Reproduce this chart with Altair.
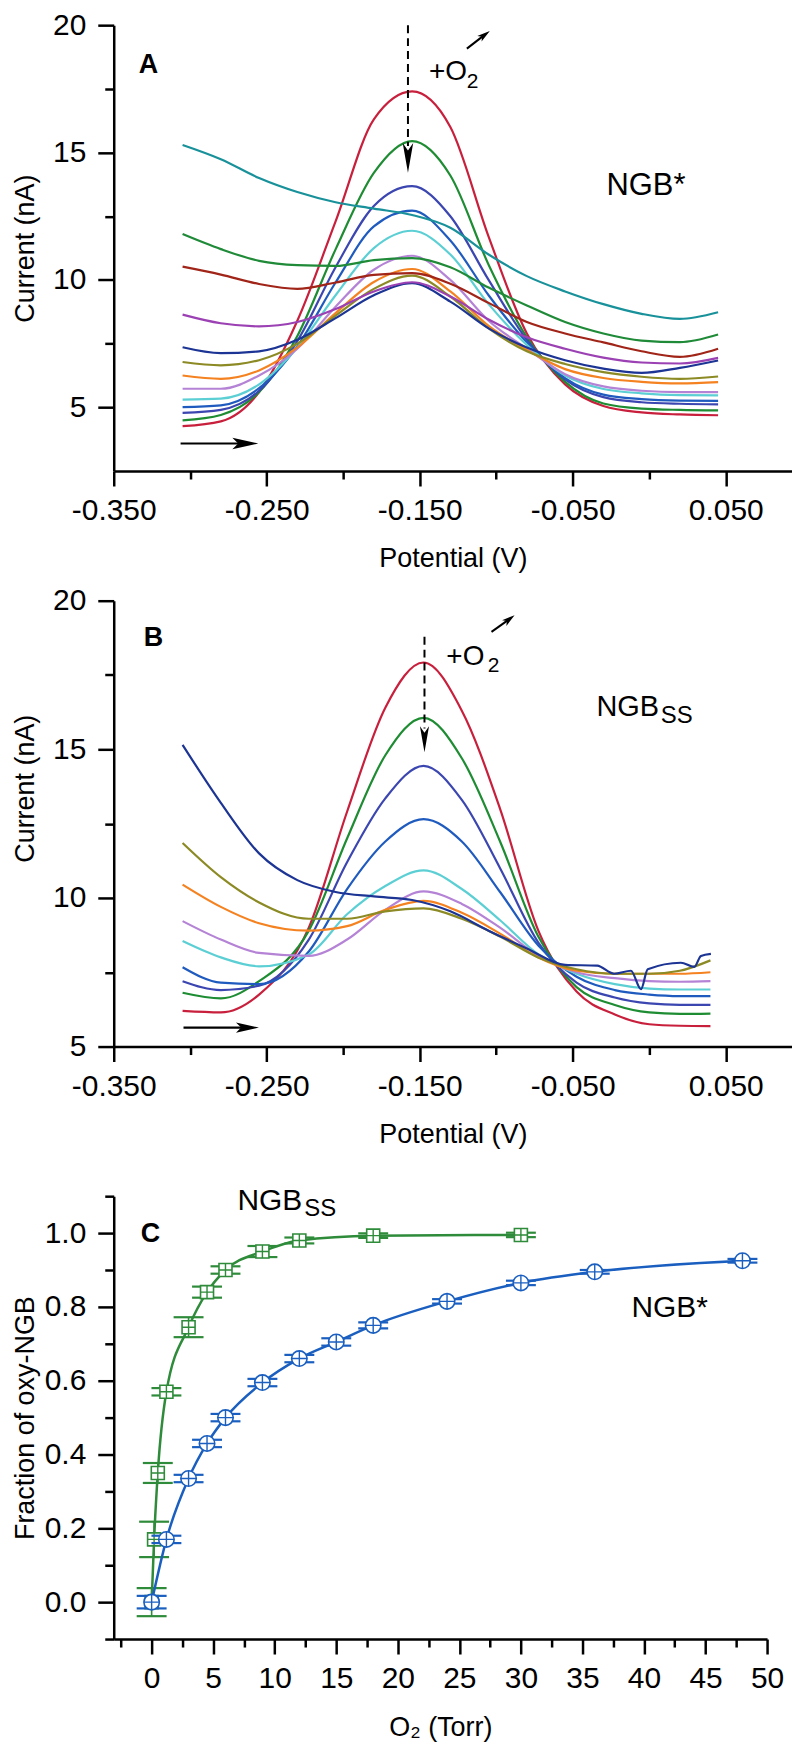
import altair as alt
import pandas as pd

FONT = "Liberation Sans"

# ---------------- Panel A : NGB* voltammograms ----------------
A_POT = [-0.305, -0.28, -0.255, -0.23, -0.205, -0.18, -0.155, -0.13, -0.105, -0.08, -0.055, -0.03, -0.005, 0.02, 0.045]
A_NAMES = ["a01", "a02", "a03", "a04", "a05", "a06", "a07", "a08", "a09", "a10", "a11", "a12", "a13"]
A_COLORS = ["#c8203c", "#1e8c32", "#3b46b0", "#1f5bbf", "#5ccfd4", "#b583d6", "#f58220",
            "#8c8a24", "#1c3494", "#9b41b3", "#a02418", "#1f8a38", "#18919a"]
A01 = [4.26, 4.45, 5.6, 8.4, 12.3, 16.3, 17.4, 16.0, 11.7, 7.9, 5.9, 5.05, 4.8, 4.72, 4.69]
A02 = [4.49, 4.7, 5.6, 7.8, 11.2, 14.2, 15.45, 14.1, 10.6, 7.75, 6.0, 5.15, 4.95, 4.9, 4.88]
A03 = [4.78, 4.9, 5.65, 7.6, 10.5, 12.9, 13.68, 12.5, 10.0, 7.65, 6.1, 5.4, 5.2, 5.14, 5.12]
A04 = [5.01, 5.08, 5.75, 7.4, 9.9, 12.1, 12.72, 11.55, 9.4, 7.55, 6.15, 5.5, 5.32, 5.26, 5.25]
A05 = [5.30, 5.34, 5.9, 7.35, 9.4, 11.25, 11.93, 11.0, 9.05, 7.45, 6.25, 5.72, 5.55, 5.48, 5.47]
A06 = [5.73, 5.73, 6.25, 7.3, 8.95, 10.4, 10.95, 10.0, 8.4, 7.3, 6.3, 5.82, 5.65, 5.6, 5.6]
A07 = [6.25, 6.12, 6.45, 7.35, 8.7, 9.92, 10.43, 9.55, 8.2, 7.25, 6.5, 6.15, 6.0, 5.94, 5.99]
A08 = [6.78, 6.65, 6.85, 7.5, 8.6, 9.65, 10.17, 9.35, 8.1, 7.2, 6.7, 6.38, 6.2, 6.12, 6.21]
A09 = [7.36, 7.13, 7.2, 7.65, 8.5, 9.4, 9.87, 9.15, 8.1, 7.35, 6.85, 6.52, 6.35, 6.55, 6.84]
A10 = [8.64, 8.3, 8.18, 8.35, 8.86, 9.55, 9.91, 9.35, 8.45, 7.75, 7.3, 6.95, 6.76, 6.72, 6.94]
A11 = [10.52, 10.21, 9.84, 9.65, 9.9, 10.2, 10.27, 9.85, 9.1, 8.35, 7.9, 7.55, 7.2, 6.98, 7.3]
A12 = [11.8, 11.21, 10.75, 10.58, 10.55, 10.78, 10.86, 10.5, 9.7, 9.0, 8.35, 7.9, 7.62, 7.56, 7.86]
A13 = [15.3, 14.74, 14.0, 13.45, 13.05, 12.8, 12.55, 12.05, 11.0, 10.15, 9.55, 9.05, 8.67, 8.47, 8.73]
A_CURVES = [A01, A02, A03, A04, A05, A06, A07, A08, A09, A10, A11, A12, A13]

# ---------------- Panel B : NGBss voltammograms ----------------
B_POT = [-0.305, -0.28, -0.255, -0.2225, -0.1975, -0.1725, -0.1475, -0.1225, -0.0975, -0.0725, -0.0475, -0.0225, 0.0, 0.02, 0.04]
B_NAMES = ["b01", "b02", "b03", "b04", "b05", "b06", "b07", "b08", "b09"]
B_COLORS = ["#ef3b2c", "#1f8b3a", "#4b4fb5", "#1956b0", "#63d2d8", "#b07dd0", "#f7851f", "#8c7d1f", "#1b2a84"]
B01 = [6.2, 6.15, 6.75, 9.0, 12.9, 16.4, 17.92, 16.3, 13.0, 8.9, 6.85, 6.08, 5.75, 5.7, 5.69]
B02 = [6.81, 6.62, 7.2, 8.9, 12.0, 14.8, 16.06, 14.7, 11.9, 8.7, 7.0, 6.4, 6.15, 6.1, 6.11]
B03 = [7.2, 6.9, 7.05, 8.6, 11.2, 13.35, 14.44, 13.3, 11.0, 8.5, 7.15, 6.65, 6.45, 6.4, 6.4]
B04 = [7.67, 7.15, 7.1, 8.2, 10.3, 11.9, 12.65, 11.9, 10.2, 8.4, 7.35, 6.9, 6.75, 6.7, 6.7]
B05 = [8.55, 8.0, 7.7, 8.1, 9.45, 10.4, 10.93, 10.3, 9.25, 8.1, 7.45, 7.1, 6.95, 6.92, 6.92]
B06 = [9.22, 8.6, 8.15, 8.05, 8.6, 9.6, 10.22, 9.8, 9.0, 8.05, 7.5, 7.3, 7.2, 7.18, 7.2]
B07 = [10.45, 9.7, 9.15, 8.9, 9.05, 9.6, 9.9, 9.5, 8.8, 8.0, 7.55, 7.45, 7.45, 7.45, 7.5]
B08 = [11.85, 10.7, 9.85, 9.3, 9.3, 9.55, 9.65, 9.3, 8.7, 8.0, 7.6, 7.45, 7.45, 7.55, 7.9]
B_CURVES = [B01, B02, B03, B04, B05, B06, B07, B08]
B09_POT = [-0.305, -0.28, -0.255, -0.23, -0.205, -0.18, -0.155, -0.13, -0.105, -0.08, -0.055,
           -0.034, -0.023, -0.012, -0.0054, -0.001, 0.0207, 0.0294, 0.0338, 0.0403]
B09 = [15.15, 13.2, 11.5, 10.6, 10.2, 10.05, 9.93, 9.55, 8.9, 8.3, 7.75,
       7.72, 7.45, 7.55, 6.93, 7.6, 7.82, 7.68, 8.05, 8.12]

# ---------------- Panel C : O2 binding ----------------
C_STAR_O2 = [0, 1.2, 3, 4.5, 6, 9, 12, 15, 18, 24, 30, 36, 48]
C_STAR_FRAC = [0.0, 0.17, 0.335, 0.43, 0.50, 0.595, 0.66, 0.705, 0.75, 0.815, 0.865, 0.895, 0.925]
C_STAR_ERR = [0.017, 0.01, 0.01, 0.01, 0.01, 0.01, 0.01, 0.01, 0.008, 0.006, 0.006, 0.005, 0.005]
C_SS_O2 = [0, 0.2, 0.5, 1.2, 3, 4.5, 6, 9, 12, 18, 30]
C_SS_FRAC = [0.0, 0.17, 0.35, 0.57, 0.745, 0.84, 0.90, 0.95, 0.98, 0.993, 0.995]
C_SS_ERR = [0.038, 0.048, 0.027, 0.01, 0.027, 0.015, 0.01, 0.015, 0.008, 0.006, 0.006]
C_BLUE = "#1a5fc0"
C_GREEN = "#2e8b3a"

# ---------------- annotation positions (data coordinates) ----------------
A_LETTER = (-0.3337, 18.12, "A")
B_LETTER = (-0.3304, 18.47, "B")
C_LETTER = (-0.89, 0.977, "C")
A_DASH = (-0.1577, 20.0, 15.26)
A_DASH_HEAD = (-0.1577, 14.79)
B_DASH = (-0.1469, 18.79, 15.70)
B_DASH_HEAD = (-0.1469, 15.34)
A_O2 = [(-0.144, 17.86, "+O", 28), (-0.1192, 17.54, "2", 21)]
B_O2 = [(-0.1326, 17.84, "+O", 28), (-0.1056, 17.61, "2", 21)]
A_SMALL_ARROW = (-0.1192, 19.08, -0.1076, 19.62)
B_SMALL_ARROW = (-0.1031, 18.95, -0.0914, 19.38)
A_SCAN_ARROW = (-0.3063, -0.264, 3.58)
B_SCAN_ARROW = (-0.3044, -0.2626, 5.64)
A_TAGS = [(-0.028, 13.34, "NGB*", 31)]
B_TAGS = [(-0.0345, 16.11, "NGB", 29), (0.0075, 15.87, "SS", 24)]
C_TAGS = [(6.97, 1.063, "NGB", 30), (12.4, 1.047, "SS", 24), (38.98, 0.772, "NGB*", 30)]

POT_TICKS = [-0.35, -0.3, -0.25, -0.2, -0.15, -0.1, -0.05, 0.0, 0.05]
CUR_TICKS = [5, 7.5, 10, 12.5, 15, 17.5, 20]
O2_TICKS = [-2.5, 0, 2.5, 5, 7.5, 10, 12.5, 15, 17.5, 20, 22.5, 25, 27.5, 30, 32.5, 35, 37.5, 40, 42.5, 45, 47.5, 50]
FRAC_TICKS = [-0.1, 0.0, 0.1, 0.2, 0.3, 0.4, 0.5, 0.6, 0.7, 0.8, 0.9, 1.0, 1.1]

DOWN_HEAD = "M0,1L-0.35,-1L0,-0.5L0.35,-1Z"
RIGHT_HEAD = "M1,0L-1,-0.45L-0.55,0L-1,0.45Z"
UP_HEAD = "M0,-1L0.55,1L0,0.5L-0.55,1Z"
CROSS = "M-1,0L1,0M0,-1L0,1"

MINUS = "\u2212"
TITLE_X = -80


def tick_size(test, minor, major):
    return {"condition": {"test": test, "value": minor}, "value": major}


POT_MINOR = "abs(round(datum.value*100)) % 10 == 0"
POT_AXIS = alt.Axis(
    values=POT_TICKS,
    labelExpr=POT_MINOR + " ? '' : replace(format(datum.value, '.3f'), '" + MINUS + "', '-')",
    tickSize=tick_size(POT_MINOR, 8, 15),
    title="Potential (V)",
    labelPadding=10,
    titlePadding=20,
)
CUR_MINOR = "datum.value % 5 != 0"


def cur_axis(title_y=None):
    kw = dict(
        values=CUR_TICKS,
        labelExpr=CUR_MINOR + " ? '' : format(datum.value, 'd')",
        tickSize=tick_size(CUR_MINOR, 9, 16),
        title="Current (nA)",
        titleX=TITLE_X,
        titleBaseline="alphabetic",
        labelPadding=12,
    )
    if title_y is not None:
        kw["titleY"] = title_y
    return alt.Axis(**kw)


def frame(rows, cols):
    return pd.DataFrame(rows, columns=cols)


def curves_df(pot, names, curves):
    rows = []
    for n, vals in zip(names, curves):
        for p, v in zip(pot, vals):
            rows.append((p, v, n))
    return frame(rows, ["p", "v", "s"])


def annotations(X, Y, letter, dash, dash_head, head_size, o2, small_arrow, scan_arrow, scan_size, tags):
    layers = []
    layers.append(alt.Chart(frame([letter], ["p", "v", "t"])).mark_text(
        align="left", baseline="alphabetic", font=FONT, fontSize=27, fontWeight="bold", color="black"
    ).encode(x=X("p"), y=Y("v"), text="t:N"))
    layers.append(alt.Chart(frame([dash], ["p", "v", "v2"])).mark_rule(
        color="black", strokeWidth=2, strokeDash=[8, 5]
    ).encode(x=X("p"), y=Y("v"), y2="v2:Q"))
    layers.append(alt.Chart(frame([dash_head], ["p", "v"])).mark_point(
        shape=DOWN_HEAD, filled=True, color="black", opacity=1, size=head_size, strokeWidth=0
    ).encode(x=X("p"), y=Y("v")))
    for (p, v, t, fs) in o2:
        layers.append(alt.Chart(frame([(p, v, t)], ["p", "v", "t"])).mark_text(
            align="left", baseline="alphabetic", font=FONT, fontSize=fs, color="black"
        ).encode(x=X("p"), y=Y("v"), text="t:N"))
    sa = small_arrow
    layers.append(alt.Chart(frame([sa], ["p", "v", "p2", "v2"])).mark_rule(
        color="black", strokeWidth=2
    ).encode(x=X("p"), y=Y("v"), x2="p2:Q", y2="v2:Q"))
    layers.append(alt.Chart(frame([(sa[2], sa[3])], ["p", "v"])).mark_point(
        shape=UP_HEAD, filled=True, color="black", opacity=1, size=169, angle=53, strokeWidth=0
    ).encode(x=X("p"), y=Y("v")))
    sc = scan_arrow
    layers.append(alt.Chart(frame([sc], ["p", "p2", "v"])).mark_rule(
        color="black", strokeWidth=2.2
    ).encode(x=X("p"), x2="p2:Q", y=Y("v")))
    layers.append(alt.Chart(frame([(sc[1], sc[2])], ["p", "v"])).mark_point(
        shape=RIGHT_HEAD, filled=True, color="black", opacity=1, size=scan_size, strokeWidth=0
    ).encode(x=X("p"), y=Y("v")))
    for (p, v, t, fs) in tags:
        layers.append(alt.Chart(frame([(p, v, t)], ["p", "v", "t"])).mark_text(
            align="left", baseline="alphabetic", font=FONT, fontSize=fs, color="black"
        ).encode(x=X("p"), y=Y("v"), text="t:N"))
    return layers


# ---------------- build panel A ----------------
xA = alt.Scale(domain=[-0.35, 0.0933], nice=False, zero=False)
yA = alt.Scale(domain=[2.5, 20], nice=False, zero=False)
axA_y = cur_axis()
XA = lambda f: alt.X(f + ":Q", scale=xA, axis=POT_AXIS)
YA = lambda f: alt.Y(f + ":Q", scale=yA, axis=axA_y)
dfA = curves_df(A_POT, A_NAMES, A_CURVES)
linesA = alt.Chart(dfA).mark_line(interpolate="monotone", strokeWidth=2.2).encode(
    x=XA("p"), y=YA("v"),
    color=alt.Color("s:N", scale=alt.Scale(domain=A_NAMES, range=A_COLORS), legend=None),
)
panelA = alt.layer(
    linesA,
    *annotations(XA, YA, A_LETTER, A_DASH, A_DASH_HEAD, 900, A_O2, A_SMALL_ARROW,
                 A_SCAN_ARROW, 676, A_TAGS),
).properties(width=680, height=447)

# ---------------- build panel B ----------------
xB = alt.Scale(domain=[-0.35, 0.0933], nice=False, zero=False)
yB = alt.Scale(domain=[5, 20], nice=False, zero=False)
axB_y = cur_axis(title_y=188)
XB = lambda f: alt.X(f + ":Q", scale=xB, axis=POT_AXIS)
YB = lambda f: alt.Y(f + ":Q", scale=yB, axis=axB_y)
dfB = pd.concat([curves_df(B_POT, B_NAMES[:8], B_CURVES),
                 curves_df(B09_POT, B_NAMES[8:], [B09])], ignore_index=True)
linesB = alt.Chart(dfB).mark_line(interpolate="monotone", strokeWidth=2.2).encode(
    x=XB("p"), y=YB("v"),
    color=alt.Color("s:N", scale=alt.Scale(domain=B_NAMES, range=B_COLORS), legend=None),
)
panelB = alt.layer(
    linesB,
    *annotations(XB, YB, B_LETTER, B_DASH, B_DASH_HEAD, 676, B_O2, B_SMALL_ARROW,
                 B_SCAN_ARROW, 529, B_TAGS),
).properties(width=680, height=447)

# ---------------- build panel C ----------------
xC = alt.Scale(domain=[-3.08, 50], nice=False, zero=False)
yC = alt.Scale(domain=[-0.1, 1.1], nice=False, zero=False)
O2_MINOR = "datum.value % 5 != 0"
FRAC_MINOR = "abs(round(datum.value*10)) % 2 == 1"
o2_axis = alt.Axis(
    values=O2_TICKS,
    labelExpr=O2_MINOR + " ? '' : format(datum.value, 'd')",
    tickSize=tick_size(O2_MINOR, 8, 15),
    title="O\u2082 (Torr)",
    labelPadding=10,
    titlePadding=21,
)
frac_axis = alt.Axis(
    values=FRAC_TICKS,
    labelExpr=FRAC_MINOR + " ? '' : replace(format(datum.value, '.1f'), '" + MINUS + "', '-')",
    tickSize=tick_size(FRAC_MINOR, 9, 16),
    title="Fraction of oxy-NGB",
    titleX=TITLE_X,
    titleBaseline="alphabetic",
    labelPadding=12,
)
XC = lambda f: alt.X(f + ":Q", scale=xC, axis=o2_axis)
YC = lambda f: alt.Y(f + ":Q", scale=yC, axis=frac_axis)


def series_c(o2, frac, err, color, shape, size):
    df = pd.DataFrame({"o": o2, "f": frac, "e": err})
    df["lo"] = df["f"] - df["e"]
    df["hi"] = df["f"] + df["e"]
    base = alt.Chart(df)
    line = base.mark_line(interpolate="monotone", color=color, strokeWidth=2.5).encode(
        x=XC("o"), y=YC("f"))
    bar = base.mark_rule(color=color, strokeWidth=1.6).encode(
        x=XC("o"), y=YC("lo"), y2="hi:Q")
    cap_lo = base.mark_tick(orient="horizontal", color=color, size=30, thickness=2.2, opacity=1).encode(
        x=XC("o"), y=YC("lo"))
    cap_hi = base.mark_tick(orient="horizontal", color=color, size=30, thickness=2.2, opacity=1).encode(
        x=XC("o"), y=YC("hi"))
    mk = base.mark_point(shape=shape, filled=True, fill="white", color=color, stroke=color,
                         size=size, strokeWidth=1.6, opacity=1).encode(
        x=XC("o"), y=YC("f"))
    cross = base.mark_point(shape=CROSS, filled=False, color=color, size=size,
                            strokeWidth=1.4, opacity=1).encode(
        x=XC("o"), y=YC("f"))
    return [line, bar, cap_lo, cap_hi, mk, cross]


tagsC = []
for (x, y, t, fs) in C_TAGS:
    tagsC.append(alt.Chart(frame([(x, y, t)], ["o", "f", "t"])).mark_text(
        align="left", baseline="alphabetic", font=FONT, fontSize=fs, color="black"
    ).encode(x=XC("o"), y=YC("f"), text="t:N"))
letterC = alt.Chart(frame([C_LETTER], ["o", "f", "t"])).mark_text(
    align="left", baseline="alphabetic", font=FONT, fontSize=27, fontWeight="bold", color="black"
).encode(x=XC("o"), y=YC("f"), text="t:N")

panelC = alt.layer(
    *series_c(C_SS_O2, C_SS_FRAC, C_SS_ERR, C_GREEN, "square", 170),
    *series_c(C_STAR_O2, C_STAR_FRAC, C_STAR_ERR, C_BLUE, "circle", 240),
    *tagsC,
    letterC,
).properties(width=655, height=444)

top = alt.vconcat(panelA, panelB, spacing=14)
chart = alt.vconcat(top, panelC, spacing=34).properties(
    padding={"top": 0, "left": 4, "right": 0, "bottom": 0}
).configure_view(stroke=None).configure_axis(
    domainColor="black", domainWidth=2.5, tickColor="black", tickWidth=2.5,
    labelFont=FONT, labelFontSize=30, labelColor="black", labelFlush=False, labelOverlap=False,
    titleFont=FONT, titleFontSize=27, titleFontWeight="normal", titleColor="black", grid=False,
)

chart.save("out.html", embed_options={"renderer": "svg", "actions": False})
